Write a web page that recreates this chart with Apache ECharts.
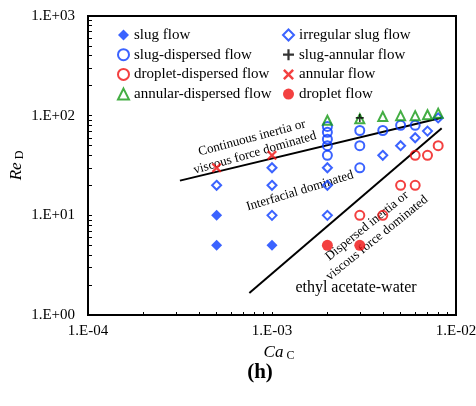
<!DOCTYPE html>
<html>
<head>
<meta charset="utf-8">
<script src="https://cdn.jsdelivr.net/npm/echarts@6/dist/echarts.min.js"></script>
<style>html,body{margin:0;padding:0;background:#fff}#c{width:476px;height:406px}</style>
</head>
<body>
<div id="c"></div>
<script>
// ---- data (Ca_C, Re_D) ----
const slugFlow = [[5e-4,10],[5e-4,5],[1e-3,5]];
const irregularSlug = [[5e-4,20],[1e-3,30],[1e-3,20],[1e-3,10],[2e-3,30],[2e-3,20],[2e-3,10],[4e-3,40],[5e-3,50],[6e-3,60],[7e-3,70],[8e-3,95]];
const slugDispersed = [[2e-3,78],[2e-3,68],[2e-3,58],[2e-3,50],[2e-3,40],[3e-3,71],[3e-3,50],[3e-3,30],[4e-3,71],[5e-3,80],[6e-3,80]];
const slugAnnular = [[3e-3,95]];
const dropletDispersed = [[3e-3,10],[4e-3,10],[5e-3,20],[6e-3,20],[6e-3,40],[7e-3,40],[8e-3,50]];
const annular = [[5e-4,30],[1e-3,40]];
const annularDispersed = [[2e-3,90],[3e-3,93],[4e-3,98],[5e-3,100],[6e-3,100],[7e-3,102],[8e-3,106]];
const dropletFlow = [[2e-3,5],[3e-3,5]];
const upperBoundary = [[3.16e-4,22.3],[8.36e-3,95.5]];
const lowerBoundary = [[7.53e-4,1.66],[8.36e-3,74.8]];
const xDecades = [1e-4,1e-3,1e-2];
const yDecades = [1,10,100,1000];
const xLabels = ['1.E-04','1.E-03','1.E-02'];
const yLabels = ['1.E+00','1.E+01','1.E+02','1.E+03'];

function minorTicks(decades){
  const out=[];
  for(let i=0;i<decades.length;i++){
    out.push(decades[i]);
    if(i<decades.length-1){ for(let k=2;k<=9;k++) out.push(+(decades[i]*k).toPrecision(6)); }
  }
  return out;
}

const FONT='Liberation Serif';
const BLUE='#0a3cff', RED='#f01010', GREEN='#159a15';
const xPath='path://M0,1.6L1.6,0L5,3.4L8.4,0L10,1.6L6.6,5L10,8.4L8.4,10L5,6.6L1.6,10L0,8.4L3.4,5Z';
const plusPath='path://M4,0H6V4H10V6H6V10H4V6H0V4H4Z';

const chart = echarts.init(document.getElementById('c'), null, {renderer:'canvas'});
const open = c => ({color:'rgba(0,0,0,0)', borderColor:c, borderWidth:2});
chart.setOption({
  animation:false,
  backgroundColor:'#fff',
  grid:{left:88,right:20,top:16,bottom:91,containLabel:false,outerBoundsMode:'none',show:true,borderColor:'#000',borderWidth:2,backgroundColor:'transparent'},
  xAxis:{type:'log',logBase:10,min:1e-4,max:1e-2,
    name:'{i|Ca}{s| C}',nameLocation:'middle',nameGap:29,nameMoveOverlap:false,
    nameTextStyle:{padding:[0,0,0,14],rich:{i:{fontFamily:FONT,fontStyle:'italic',fontSize:17,color:'#000'},s:{fontFamily:FONT,fontSize:12,color:'#000',padding:[6,0,0,0]}}},
    axisLine:{show:true,lineStyle:{color:'#000',width:2}},
    axisTick:{show:true,inside:true,length:3,lineStyle:{color:'#000',width:1},customValues:minorTicks(xDecades)},
    axisLabel:{customValues:xDecades,hideOverlap:false,formatter:v=>xLabels[xDecades.findIndex(d=>Math.abs(Math.log10(d)-Math.log10(v))<1e-6)]||'',fontFamily:FONT,fontSize:15,color:'#000',margin:9},
    splitLine:{show:false},minorTick:{show:false}},
  yAxis:{type:'log',logBase:10,min:1,max:1000,
    name:'{i|Re}{s| D}',nameLocation:'middle',nameGap:62,nameRotate:90,nameMoveOverlap:false,
    nameTextStyle:{rich:{i:{fontFamily:FONT,fontStyle:'italic',fontSize:17,color:'#000'},s:{fontFamily:FONT,fontSize:12,color:'#000',padding:[6,0,0,0]}}},
    axisLine:{show:true,lineStyle:{color:'#000',width:2}},
    axisTick:{show:true,inside:true,length:4,lineStyle:{color:'#000',width:1},customValues:minorTicks(yDecades)},
    axisLabel:{customValues:yDecades,formatter:v=>yLabels[yDecades.findIndex(d=>Math.abs(Math.log10(d)-Math.log10(v))<1e-6)]||'',fontFamily:FONT,fontSize:15,color:'#000',margin:13},
    splitLine:{show:false}},
  legend:[
    {orient:'vertical',left:112,top:22,itemWidth:11,itemHeight:11,itemGap:3.7,selectedMode:false,
     textStyle:{fontFamily:FONT,fontSize:15,color:'#000',lineHeight:16},
     data:['slug flow','slug-dispersed flow','droplet-dispersed flow','annular-dispersed flow']},
    {orient:'vertical',left:277,top:22,itemWidth:11,itemHeight:11,itemGap:3.7,selectedMode:false,
     textStyle:{fontFamily:FONT,fontSize:15,color:'#000',lineHeight:16},
     data:['irregular slug flow','slug-annular flow','annular flow','droplet flow']}
  ],
  series:[
    {name:'upper',type:'line',data:upperBoundary,symbol:'none',lineStyle:{color:'#000',width:2},silent:true,z:1},
    {name:'lower',type:'line',data:lowerBoundary,symbol:'none',lineStyle:{color:'#000',width:2},silent:true,z:1},
    {name:'slug flow',type:'scatter',data:slugFlow,symbol:'diamond',symbolSize:11,itemStyle:{color:BLUE},z:3},
    {name:'irregular slug flow',type:'scatter',data:irregularSlug,symbol:'diamond',symbolSize:9,itemStyle:open(BLUE),z:3},
    {name:'slug-dispersed flow',type:'scatter',data:slugDispersed,symbol:'circle',symbolSize:9,itemStyle:open(BLUE),z:3},
    {name:'droplet-dispersed flow',type:'scatter',data:dropletDispersed,symbol:'circle',symbolSize:9,itemStyle:open(RED),z:3},
    {name:'annular-dispersed flow',type:'scatter',data:annularDispersed,symbol:'triangle',symbolSize:9,itemStyle:open(GREEN),z:4},
    {name:'slug-annular flow',type:'scatter',data:slugAnnular,symbol:plusPath,symbolSize:8,itemStyle:{color:'#000'},z:5},
    {name:'annular flow',type:'scatter',data:annular,symbol:xPath,symbolSize:10,itemStyle:{color:RED},z:3},
    {name:'droplet flow',type:'scatter',data:dropletFlow,symbol:'circle',symbolSize:11,itemStyle:{color:RED},z:3}
  ],
  graphic:[
    {type:'text',x:252,y:138,rotation:15*Math.PI/180,style:{text:'Continuous inertia or',font:'13px "Liberation Serif"',fill:'#000',align:'center',verticalAlign:'middle'}},
    {type:'text',x:255,y:153,rotation:16*Math.PI/180,style:{text:'viscous force dominated',font:'13px "Liberation Serif"',fill:'#000',align:'center',verticalAlign:'middle'}},
    {type:'text',x:300,y:191,rotation:17*Math.PI/180,style:{text:'Interfacial dominated',font:'13px "Liberation Serif"',fill:'#000',align:'center',verticalAlign:'middle'}},
    {type:'text',x:367,y:226,rotation:39*Math.PI/180,style:{text:'Dispersed inertia or',font:'13px "Liberation Serif"',fill:'#000',align:'center',verticalAlign:'middle'}},
    {type:'text',x:377,y:238,rotation:39*Math.PI/180,style:{text:'viscous force dominated',font:'13px "Liberation Serif"',fill:'#000',align:'center',verticalAlign:'middle'}},
    {type:'text',x:356,y:288,style:{text:'ethyl acetate-water',font:'16px "Liberation Serif"',fill:'#000',align:'center',verticalAlign:'middle'}},
    {type:'text',x:260,y:373,style:{text:'(h)',font:'bold 21px "Liberation Serif"',fill:'#000',align:'center',verticalAlign:'middle'}}
  ]
});
</script>
</body>
</html>
